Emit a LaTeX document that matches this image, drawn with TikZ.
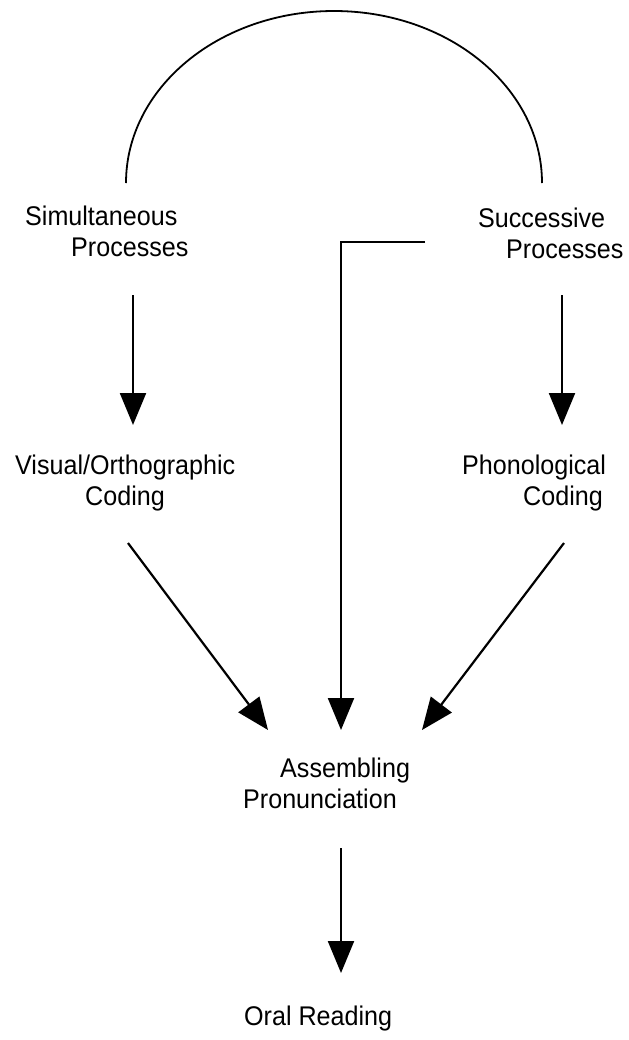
\documentclass[tikz,border=0pt]{standalone}
\usepackage{fontspec}
\setmainfont[FakeStretch=0.93]{Liberation Sans}
\usetikzlibrary{arrows.meta}

\begin{document}
\begin{tikzpicture}[x=1bp, y=-1bp,
		lbl/.style={anchor=base west, inner sep=0pt, align=left, font=\fontsize{27bp}{31bp}\selectfont},
		arr/.style={line width=2.2bp, -{Triangle[length=32bp, width=26bp]}},
		link/.style={line width=1.8bp}]
	\useasboundingbox (0,0) rectangle (629,1040);

	\node[lbl] (sim) at (25,256) {Simultaneous\\\hspace*{46bp}Processes};
	\node[lbl] (succ) at (478,258) {Successive\\\hspace*{28bp}Processes};
	\node[lbl] (vis) at (15,505) {Visual/Orthographic\\\hspace*{70bp}Coding};
	\node[lbl] (pho) at (462,505) {Phonological\\\hspace*{61bp}Coding};
	\node[lbl] (asm) at (243,808) {\hspace*{37bp}Assembling\\Pronunciation};
	\node[lbl] (oral) at (244,1025) {Oral Reading};

	\draw[link] ([shift={(101,-73)}]sim.base west) arc[start angle=180, end angle=0, x radius=208bp, y radius=172bp];
	\draw[arr] ([shift={(108,39)}]sim.base west) -- ([shift={(118,-80)}]vis.base west);
	\draw[arr] ([shift={(84,37)}]succ.base west) -- ([shift={(100,-80)}]pho.base west);
	\draw[arr] ([shift={(113,38)}]vis.base west) -- ([shift={(25,-78)}]asm.base west);
	\draw[arr] ([shift={(102,38)}]pho.base west) -- ([shift={(179,-78)}]asm.base west);
	\draw[arr] ([shift={(-53,-16)}]succ.base west) -| ([shift={(98,-78)}]asm.base west);
	\draw[arr] ([shift={(98,40)}]asm.base west) -- ([shift={(97,-52)}]oral.base west);
\end{tikzpicture}
\end{document}
